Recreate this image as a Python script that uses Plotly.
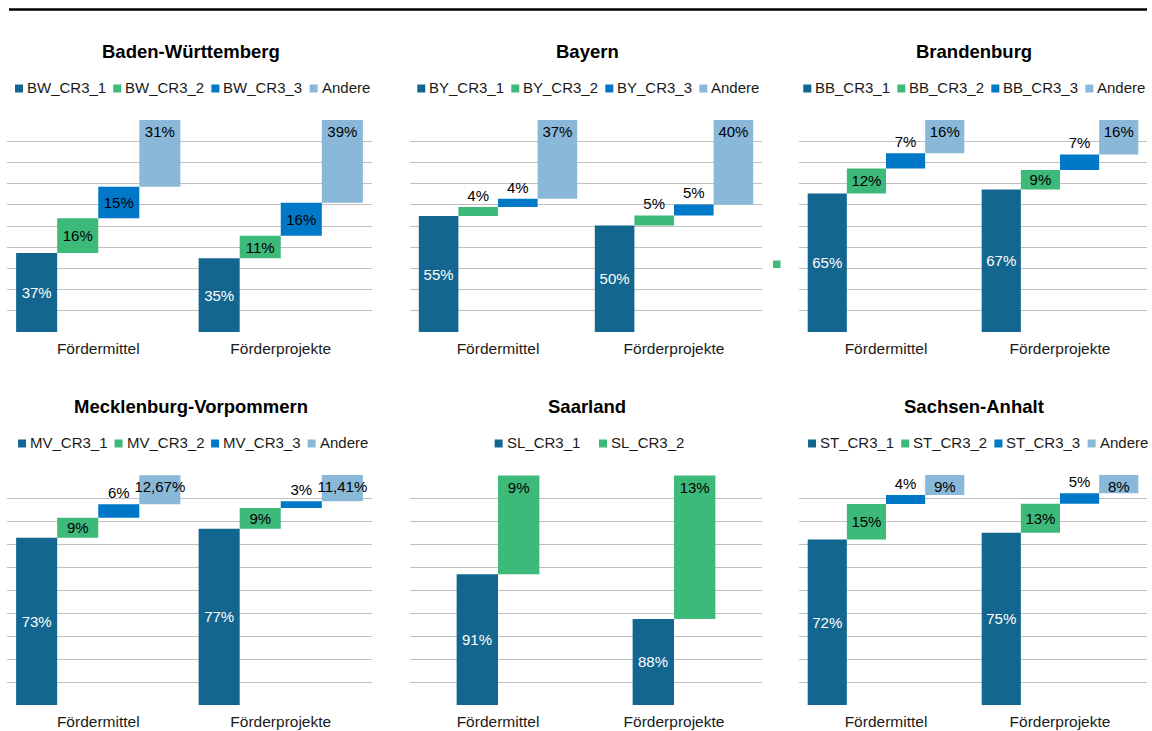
import math
import plotly.graph_objects as go

# ---------------- data ----------------
categories = ["Fördermittel", "Förderprojekte"]

bw_names = ["BW_CR3_1", "BW_CR3_2", "BW_CR3_3", "Andere"]
bw_foerdermittel = [37.3, 16.4, 14.9, 31.4]
bw_foerderprojekte = [34.8, 10.6, 15.6, 39.0]

by_names = ["BY_CR3_1", "BY_CR3_2", "BY_CR3_3", "Andere"]
by_foerdermittel = [54.7, 4.3, 3.9, 37.1]
by_foerderprojekte = [50.3, 4.7, 5.2, 39.8]

bb_names = ["BB_CR3_1", "BB_CR3_2", "BB_CR3_3", "Andere"]
bb_foerdermittel = [65.4, 11.8, 7.2, 15.6]
bb_foerderprojekte = [67.3, 9.1, 7.4, 16.2]

mv_names = ["MV_CR3_1", "MV_CR3_2", "MV_CR3_3", "Andere"]
mv_foerdermittel = [72.7, 8.7, 5.9, 12.67]
mv_foerderprojekte = [76.7, 9.0, 2.89, 11.41]

sl_names = ["SL_CR3_1", "SL_CR3_2"]
sl_foerdermittel = [91.4, 8.6]
sl_foerderprojekte = [87.5, 12.5]

st_names = ["ST_CR3_1", "ST_CR3_2", "ST_CR3_3", "Andere"]
st_foerdermittel = [72.0, 15.4, 3.9, 8.7]
st_foerderprojekte = [74.9, 12.6, 4.6, 7.9]

titles = ["Baden-Württemberg", "Bayern", "Brandenburg",
          "Mecklenburg-Vorpommern", "Saarland", "Sachsen-Anhalt"]

# ---------------- styling ----------------
FONT = "Liberation Sans, Arial, sans-serif"
colors = ["#12668F", "#3DB97A", "#0078C8", "#8AB8D9"]
GRID = "#BFBFBF"
W, H = 1152, 731
LEG_FS = 15

panels = [
    (titles[0], bw_names, bw_foerdermittel, bw_foerderprojekte, [0, 0, 0, 0]),
    (titles[1], by_names, by_foerdermittel, by_foerderprojekte, [0, 0, 0, 0]),
    (titles[2], bb_names, bb_foerdermittel, bb_foerderprojekte, [0, 0, 0, 0]),
    (titles[3], mv_names, mv_foerdermittel, mv_foerderprojekte, [0, 0, 0, 2]),
    (titles[4], sl_names, sl_foerdermittel, sl_foerderprojekte, [0, 0]),
    (titles[5], st_names, st_foerdermittel, st_foerderprojekte, [0, 0, 0, 0]),
]

# panel pixel geometry (plot areas)
col_x = [(7, 372), (410, 762), (799, 1147)]
row_y = [(120, 332), (475, 705)]
YTOP = 100.05
yranges = [[0, YTOP]] * 4 + [[80, YTOP]] + [[0, YTOP]]
ydticks = [10, 10, 10, 10, 2, 10]
legend_cx = [192.5, 588.5, 974.5, 193, 589.5, 978]
legend_item_gap = [7, 7, 7, 7, 19, 7]
title_cy = [51, 406]
legend_cy = [87.5, 442.5]
MARK = 8      # legend marker size (px)
MARK_GAP = 4  # marker -> text gap (px)

# Arial / Liberation Sans advance widths (per 1000 em)
ARIAL_W = {"A": 667, "B": 667, "C": 722, "L": 556, "M": 833, "R": 722,
           "S": 667, "T": 611, "V": 667, "W": 944, "Y": 667, "_": 556,
           "n": 556, "d": 556, "e": 556, "r": 333}


def text_w(s, size):
    return sum(ARIAL_W.get(ch, 556) for ch in s) * size / 1000


def fmt(v, dec):
    if dec == 0:
        return f"{int(math.floor(v + 0.5))}%"
    return f"{v:.{dec}f}%".replace(".", ",")


def px_x(p):
    return p / W


def px_y(p):
    return 1 - p / H


fig = go.Figure()
layout_axes = {}
annotations = []
shapes = []

for i, (title, names, fm, fp, decs) in enumerate(panels):
    r, c = divmod(i, 3)
    ax = "" if i == 0 else str(i + 1)
    xa, ya = "x" + ax, "y" + ax
    n = len(names)
    bw = 0.225 if n == 4 else 0.235
    offsets = [-n * bw / 2 + k * bw for k in range(n)]
    cum = [0.0, 0.0]
    ymin = yranges[i][0]
    for j in range(n):
        vals = [fm[j], fp[j]]
        base = list(cum)
        labels = [fmt(v, decs[j]) for v in vals]
        last = (j == n - 1)
        hidden_base = base[0] < ymin
        if last:
            tpos = ["inside", "inside"]
            anchor = "end"
        else:
            tpos = ["outside" if v < 8 else "inside" for v in vals]
            anchor = "middle"
        txtcol = "white" if j == 0 else "black"
        fig.add_trace(go.Bar(
            x=categories, y=vals, base=base,
            offset=offsets[j], width=bw,
            marker=dict(color=colors[j], line=dict(width=0)),
            text=None if hidden_base else labels,
            textposition=tpos, insidetextanchor=anchor,
            textangle=0, constraintext="none",
            insidetextfont=dict(family=FONT, size=15, color=txtcol),
            outsidetextfont=dict(family=FONT, size=15, color="black"),
            cliponaxis=hidden_base,
            name=names[j], showlegend=False,
            xaxis=xa, yaxis=ya, hoverinfo="name+y",
        ))
        if hidden_base:
            # label centred in the visible part of the bar
            for k in range(2):
                annotations.append(dict(
                    text=labels[k], xref=xa, yref=ya,
                    x=k + offsets[j] + bw / 2,
                    y=(max(base[k], ymin) + base[k] + vals[k]) / 2,
                    showarrow=False, xanchor="center", yanchor="middle",
                    font=dict(family=FONT, size=15, color=txtcol),
                ))
        cum = [cum[0] + vals[0], cum[1] + vals[1]]

    x0, x1 = col_x[c]
    y0, y1 = row_y[r]
    layout_axes["xaxis" + ax] = dict(
        domain=[px_x(x0), px_x(x1)], range=[-0.5, 1.5], type="category",
        showgrid=False, zeroline=False, showline=False, ticks="",
        ticklabelstandoff=5,
        tickfont=dict(family=FONT, size=15.5, color="#1a1a1a"),
        anchor=ya, fixedrange=True,
    )
    layout_axes["yaxis" + ax] = dict(
        domain=[px_y(y1), px_y(y0)], range=yranges[i], dtick=ydticks[i],
        tick0=0, showgrid=True, gridcolor=GRID, gridwidth=1,
        showticklabels=False, zeroline=False, showline=False, ticks="",
        anchor=xa, fixedrange=True,
    )

    cx = (x0 + x1) / 2
    annotations.append(dict(
        text=f"<b>{title}</b>", x=px_x(cx + 1), y=px_y(title_cy[r]),
        xref="paper", yref="paper", xanchor="center", yanchor="middle",
        showarrow=False, font=dict(family=FONT, size=18.5, color="#000000"),
    ))

    # legend: coloured squares + names, laid out like the original
    widths = [text_w(nm, LEG_FS) for nm in names]
    total = sum(MARK + MARK_GAP + w for w in widths) + legend_item_gap[i] * (n - 1)
    xpos = legend_cx[i] - total / 2
    cy = legend_cy[r]
    for k in range(n):
        shapes.append(dict(
            type="rect", xref="paper", yref="paper",
            x0=px_x(xpos), x1=px_x(xpos + MARK),
            y0=px_y(cy + 1 + MARK / 2), y1=px_y(cy + 1 - MARK / 2),
            fillcolor=colors[k], line=dict(width=0),
        ))
        annotations.append(dict(
            text=names[k], x=px_x(xpos + MARK + MARK_GAP), y=px_y(cy),
            xref="paper", yref="paper", xanchor="left", yanchor="middle",
            showarrow=False, borderpad=0, borderwidth=0,
            font=dict(family=FONT, size=LEG_FS, color="#1a1a1a"),
        ))
        xpos += MARK + MARK_GAP + widths[k] + legend_item_gap[i]

shapes += [
    dict(type="line", xref="paper", yref="paper",
         x0=px_x(9), x1=px_x(1147), y0=px_y(9.5), y1=px_y(9.5),
         line=dict(color="black", width=2.5)),
    dict(type="rect", xref="paper", yref="paper",
         x0=px_x(773), x1=px_x(780.5), y0=px_y(268), y1=px_y(260.5),
         fillcolor=colors[1], line=dict(width=0)),
]

fig.update_layout(
    width=W, height=H, margin=dict(l=0, r=0, t=0, b=0),
    paper_bgcolor="white", plot_bgcolor="white",
    barmode="overlay", showlegend=False,
    font=dict(family=FONT, size=15, color="#1a1a1a"),
    annotations=annotations, shapes=shapes,
    **layout_axes,
)

fig.write_html("out.html",
               config={"displayModeBar": False},
               post_script="document.body.style.margin='0';"
                           "document.body.style.overflow='hidden';")
